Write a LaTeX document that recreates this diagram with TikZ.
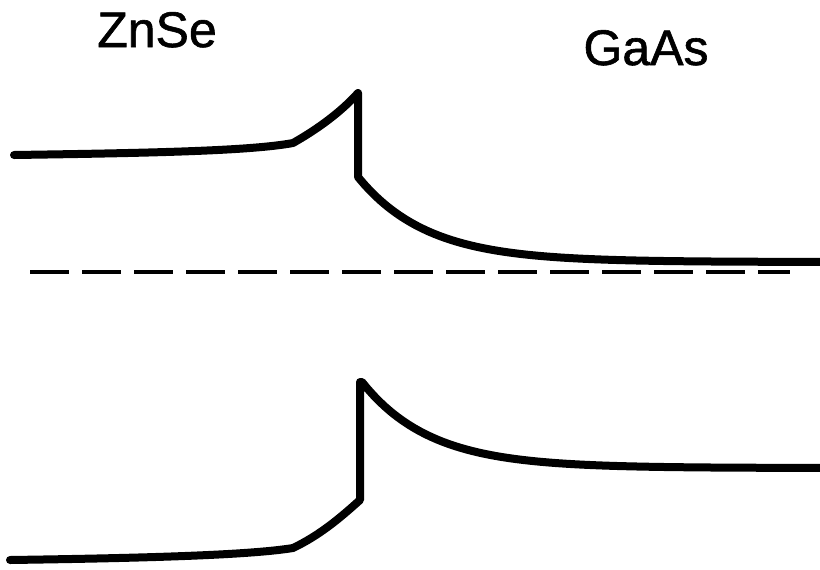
\documentclass[tikz,border=0pt]{standalone}
\usepackage{fontspec}
\setmainfont{Liberation Sans}
\newfontfamily\labelfont{Liberation Sans}[FakeBold=1.2]
\begin{document}
\begin{tikzpicture}[x=0.5pt,y=-0.5pt,
  band/.style={line width=4pt,line cap=round,line join=round},
  fermi/.style={line width=2.3pt,dash pattern=on 19.5pt off 6.5pt},
  label/.style={font=\labelfont\fontsize{25}{30}\selectfont,anchor=base,inner sep=0pt}]
\useasboundingbox (0,0) rectangle (820,569);

% material labels
\node[label] (znse) at (157,47) {ZnSe};
\node[label] (gaas) at (646,65) {GaAs};

% conduction band edge with interface spike
\draw[band] (14,155) .. controls (150,153) and (250,151) .. (293,143)
  .. controls (316,130) and (340,113) .. (358,93) -- (358,177)
  -- plot[domain=358:820,samples=80] (\x,{262-85*exp(-(\x-358)/69)});

% Fermi level
\draw[fermi] (30,272) -- (790,272);

% valence band edge
\draw[band] (10,560) .. controls (150,558) and (250,555) .. (293,548)
  .. controls (320,535) and (340,518) .. (360,500) -- (360,382)
  -- plot[domain=362:820,samples=80] (\x,{468-86*exp(-(\x-362)/68)});
\end{tikzpicture}
\end{document}
